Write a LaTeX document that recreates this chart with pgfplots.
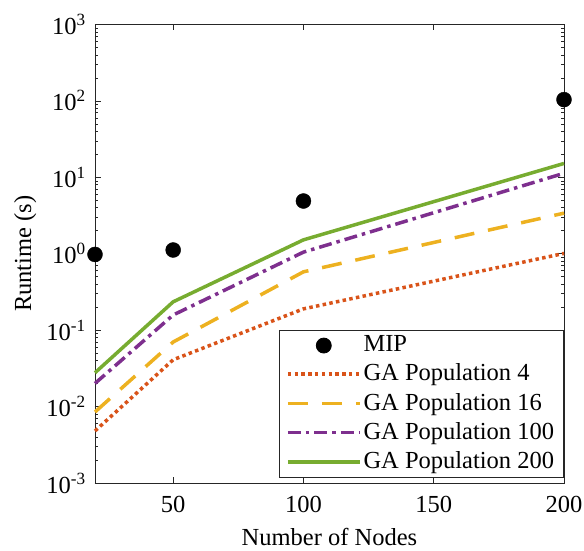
\documentclass[border=0pt]{standalone}
\usepackage{pgfplots}
\pgfplotsset{compat=1.18}
\usepackage{fontspec}
\setmainfont{Liberation Serif}

\definecolor{mipred}{rgb}{0.850,0.325,0.098}
\definecolor{mipyellow}{rgb}{0.929,0.694,0.125}
\definecolor{mippurple}{rgb}{0.494,0.184,0.556}
\definecolor{mipgreen}{rgb}{0.466,0.674,0.188}
\definecolor{axisgray}{rgb}{0.15,0.15,0.15}

\newcommand{\chartfont}{\fontsize{24.5}{29}\selectfont}

\pgfplotsset{
  longline/.style={
    legend image code/.code={
      \draw[##1] (0pt,0pt) -- (72pt,0pt);
    }
  },
}

\begin{document}
\chartfont
\begin{tikzpicture}
\begin{axis}[
  name=ax,
  scale only axis,
  width=469pt, height=458.5pt,
  ymode=log,
  xmin=20, xmax=200,
  ymin=1e-3, ymax=1e3,
  xtick={50,100,150,200},
  ytick={1e-3,1e-2,1e-1,1,1e1,1e2,1e3},
  yticklabels={10\textsuperscript{-3},10\textsuperscript{-2},10\textsuperscript{-1},10\textsuperscript{0},10\textsuperscript{1},10\textsuperscript{2},10\textsuperscript{3}},
  xticklabel={\pgfmathprintnumber[assume math mode=true]{\tick}},
  tick label style={font=\chartfont},
  xticklabel style={yshift=-5pt},
  yticklabel style={xshift=-1pt},
  xlabel={Number of Nodes},
  ylabel={Runtime (s)},
  xlabel style={font=\chartfont,
    at={(axis description cs:0.5,-0.118)}, anchor=center},
  ylabel style={font=\chartfont,
    at={(axis description cs:-0.149,0.5)}, anchor=center},
  tick align=inside,
  major tick length=6pt,
  minor tick length=3.5pt,
  axis line style={axisgray, line width=0.8pt},
  every tick/.style={axisgray, line width=0.6pt},
  yminorticks=true,
  legend cell align=left,
  legend style={
    at={(1,0)}, anchor=south east, xshift=-0.5pt, yshift=5.5pt,
    draw=axisgray, line width=0.8pt,
    font=\chartfont,
    row sep=4.5pt,
    inner xsep=7pt, inner ysep=3pt,
    cells={anchor=west},
  },
  clip=false,
]
\addplot[only marks, mark=*, mark size=7.5pt, black,
  legend image code/.code={\fill[black] (36pt,0pt) circle (7.5pt);}]
  coordinates {(20,0.98) (50,1.12) (100,4.9) (200,104)};
\addlegendentry{MIP}

\addplot[mipred, line width=3.5pt, dash pattern=on 3.5pt off 3.3pt, longline]
  coordinates {(20,0.0048) (50,0.041) (100,0.19) (200,1.01)};
\addlegendentry{GA Population 4}

\addplot[mipyellow, line width=3.5pt, dash pattern=on 20pt off 14pt, longline]
  coordinates {(20,0.0085) (50,0.07) (100,0.58) (200,3.4)};
\addlegendentry{GA Population 16}

\addplot[mippurple, line width=3.5pt, dash pattern=on 13pt off 5pt on 3.5pt off 5pt, longline]
  coordinates {(20,0.0201) (50,0.158) (100,1.05) (200,11.3)};
\addlegendentry{GA Population 100}

\addplot[mipgreen, line width=3.5pt, longline]
  coordinates {(20,0.0277) (50,0.235) (100,1.52) (200,15.2)};
\addlegendentry{GA Population 200}
\end{axis}
% page frame: fixed margins around the axis box
\pgfresetboundingbox
\path[use as bounding box]
  ([xshift=-95pt,yshift=-67pt]ax.south west)
  rectangle ([xshift=20pt,yshift=24.5pt]ax.north east);
\end{tikzpicture}
\end{document}
